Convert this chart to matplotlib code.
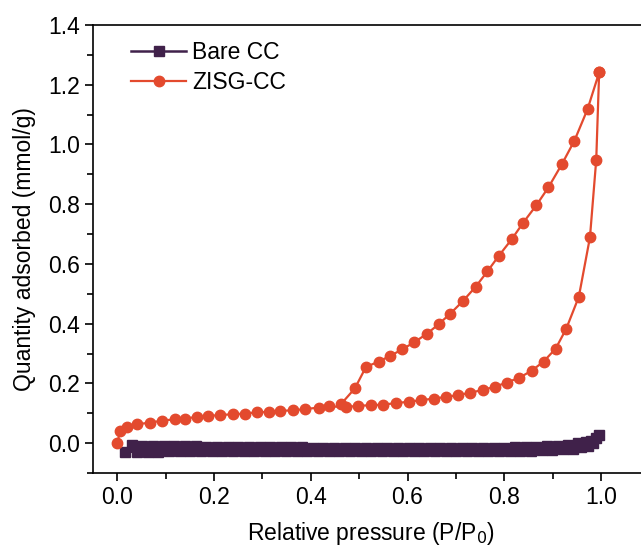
import matplotlib.pyplot as plt
from matplotlib.ticker import MultipleLocator

plt.rcParams['font.family'] = ['Liberation Sans', 'DejaVu Sans']

# ZISG-CC adsorption branch
zisg_ads_x = [0.000, 0.006, 0.020, 0.041, 0.068, 0.092, 0.119, 0.140, 0.164, 0.188,
              0.212, 0.240, 0.264, 0.288, 0.313, 0.336, 0.364, 0.388, 0.416, 0.438,
              0.473, 0.498, 0.524, 0.550, 0.576, 0.604, 0.628, 0.654, 0.680, 0.705,
              0.730, 0.755, 0.781, 0.805, 0.831, 0.857, 0.881, 0.906, 0.928, 0.954,
              0.977, 0.990, 0.996]
zisg_ads_y = [0.000, 0.041, 0.055, 0.063, 0.069, 0.075, 0.080, 0.082, 0.088, 0.091,
              0.094, 0.097, 0.099, 0.103, 0.105, 0.108, 0.110, 0.114, 0.119, 0.123,
              0.121, 0.125, 0.127, 0.129, 0.134, 0.139, 0.144, 0.149, 0.155, 0.161,
              0.169, 0.178, 0.189, 0.203, 0.219, 0.243, 0.273, 0.316, 0.383, 0.490,
              0.689, 0.949, 1.241]

# ZISG-CC desorption branch
zisg_des_x = [0.996, 0.972, 0.945, 0.919, 0.891, 0.866, 0.839, 0.815, 0.789, 0.765,
              0.741, 0.714, 0.688, 0.664, 0.640, 0.614, 0.589, 0.564, 0.540, 0.514,
              0.491, 0.462]
zisg_des_y = [1.241, 1.118, 1.013, 0.934, 0.856, 0.796, 0.738, 0.682, 0.628, 0.575,
              0.524, 0.475, 0.433, 0.398, 0.366, 0.338, 0.314, 0.292, 0.273, 0.255,
              0.183, 0.130]

# Bare CC adsorption / desorption
bare_ads_x = [0.030, 0.052, 0.074, 0.096, 0.118, 0.140, 0.162, 0.184, 0.206, 0.228,
              0.250, 0.272, 0.294, 0.316, 0.338, 0.360, 0.382, 0.404, 0.426, 0.448,
              0.470, 0.492, 0.514, 0.536, 0.558, 0.580, 0.602, 0.624, 0.646, 0.668,
              0.690, 0.712, 0.734, 0.756, 0.778, 0.800, 0.822, 0.844, 0.866, 0.888,
              0.910, 0.932, 0.952, 0.968, 0.980, 0.990, 0.996]
bare_ads_y = [-0.007, -0.008, -0.009, -0.010, -0.010, -0.011, -0.011, -0.012, -0.012, -0.012,
              -0.013, -0.013, -0.013, -0.014, -0.014, -0.014, -0.014, -0.015, -0.015, -0.015,
              -0.015, -0.015, -0.016, -0.016, -0.016, -0.016, -0.016, -0.016, -0.016, -0.016,
              -0.016, -0.016, -0.016, -0.015, -0.015, -0.015, -0.014, -0.013, -0.012, -0.010,
              -0.008, -0.005, -0.001, 0.003, 0.008, 0.016, 0.028]
bare_des_x = [0.984, 0.972, 0.958, 0.941, 0.921, 0.899, 0.877, 0.855, 0.833, 0.811,
              0.789, 0.767, 0.745, 0.723, 0.701, 0.679, 0.657, 0.635, 0.613, 0.591,
              0.569, 0.547, 0.525, 0.503, 0.481, 0.459, 0.437, 0.415, 0.393, 0.371,
              0.349, 0.327, 0.305, 0.283, 0.261, 0.239, 0.217, 0.195, 0.173, 0.151,
              0.129, 0.107, 0.085, 0.063, 0.041, 0.016]
bare_des_y = [0.002, -0.008, -0.014, -0.018, -0.021, -0.023, -0.024, -0.025, -0.025, -0.026,
              -0.026, -0.026, -0.026, -0.026, -0.026, -0.026, -0.026, -0.026, -0.026, -0.026,
              -0.026, -0.026, -0.026, -0.026, -0.026, -0.026, -0.026, -0.026, -0.026, -0.026,
              -0.026, -0.026, -0.026, -0.026, -0.026, -0.026, -0.026, -0.027, -0.027, -0.027,
              -0.027, -0.027, -0.028, -0.028, -0.028, -0.030]

purple = '#40214a'
red = '#e34a2e'

fig = plt.figure(figsize=(6.41, 5.52), dpi=100)
ax = fig.add_axes([0.1452, 0.1431, 0.868, 0.8116])

# Bare CC
ax.plot(bare_ads_x + bare_des_x, bare_ads_y + bare_des_y, '-s', color=purple,
        markersize=6.5, linewidth=1.8, label='Bare CC')
# ZISG-CC
ax.plot(zisg_ads_x + zisg_des_x, zisg_ads_y + zisg_des_y, '-o', color=red,
        markersize=7.5, linewidth=1.6, label='ZISG-CC')

ax.set_xlim(-0.05, 1.1)
ax.set_ylim(-0.1, 1.4)
ax.xaxis.set_major_locator(MultipleLocator(0.2))
ax.xaxis.set_minor_locator(MultipleLocator(0.1))
ax.yaxis.set_major_locator(MultipleLocator(0.2))
ax.yaxis.set_minor_locator(MultipleLocator(0.1))
ax.set_xticks([0.0, 0.2, 0.4, 0.6, 0.8, 1.0])
ax.tick_params(which='major', direction='out', length=6, width=1.2, labelsize=16.5)
ax.tick_params(which='minor', direction='out', length=4, width=1.2)
ax.tick_params(top=False, right=False, which='both')
for s in ax.spines.values():
    s.set_linewidth(1.2)
ax.spines['right'].set_visible(False)

ax.set_xlabel('Relative pressure (P/P$_0$)', fontsize=16.5, labelpad=8)
ax.set_ylabel('Quantity adsorbed (mmol/g)', fontsize=16.5, labelpad=9)

ax.legend(loc='upper left', frameon=False, fontsize=16.5, handlelength=2.4,
          handletextpad=0.25, borderaxespad=0.3, labelspacing=0.3,
          bbox_to_anchor=(0.04, 1.0))

fig.savefig('out.png', dpi=100)
